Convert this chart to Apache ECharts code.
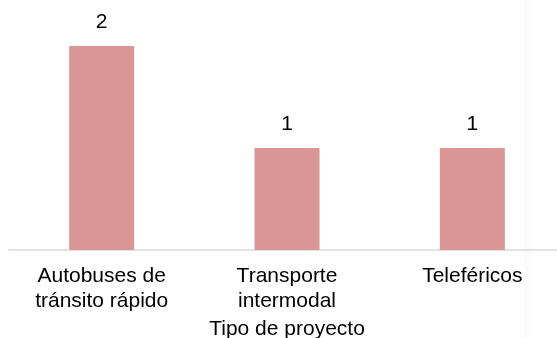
<!DOCTYPE html>
<html>
<head>
<meta charset="utf-8">
<script src="https://cdn.jsdelivr.net/npm/echarts@6/dist/echarts.min.js"></script>
<style>html,body{margin:0;padding:0;background:#fff;}#c{width:557px;height:338px;}</style>
</head>
<body>
<div id="c"></div>
<script>
const categories = ["Autobuses de\ntránsito rápido", "Transporte\nintermodal", "Teleféricos"];
const values = [2, 1, 1];
const axisName = "Tipo de proyecto";

const chart = echarts.init(document.getElementById('c'), null, {renderer: 'canvas'});
chart.setOption({
  animation: false,
  backgroundColor: '#ffffff',
  textStyle: {fontFamily: 'Liberation Sans, Arial, sans-serif'},
  graphic: [{
    type: 'rect', z: -10, silent: true,
    shape: {x: 524, y: 0, width: 9, height: 338},
    style: {fill: '#fbfbfb'}
  }],
  grid: {left: 9, right: -8, top: 46, bottom: 88, containLabel: false, outerBoundsMode: 'none'},
  xAxis: {
    type: 'category',
    data: categories,
    name: axisName,
    nameLocation: 'middle',
    nameGap: 67,
    nameTextStyle: {color: '#000', fontSize: 21, fontFamily: 'Liberation Sans, Arial, sans-serif'},
    axisLine: {lineStyle: {color: '#d9d9d9', width: 1.5}},
    axisTick: {show: false},
    axisLabel: {color: '#000', fontSize: 21, lineHeight: 25, margin: 14, interval: 0,
      fontFamily: 'Liberation Sans, Arial, sans-serif'}
  },
  yAxis: {
    type: 'value', min: 0, max: 2,
    show: false,
    splitLine: {show: false}
  },
  series: [{
    type: 'bar',
    data: values,
    barWidth: 65,
    itemStyle: {color: '#DA9694'},
    label: {show: true, position: 'top', distance: 13, color: '#000', fontSize: 21,
      fontFamily: 'Liberation Sans, Arial, sans-serif'}
  }]
});
</script>
</body>
</html>
